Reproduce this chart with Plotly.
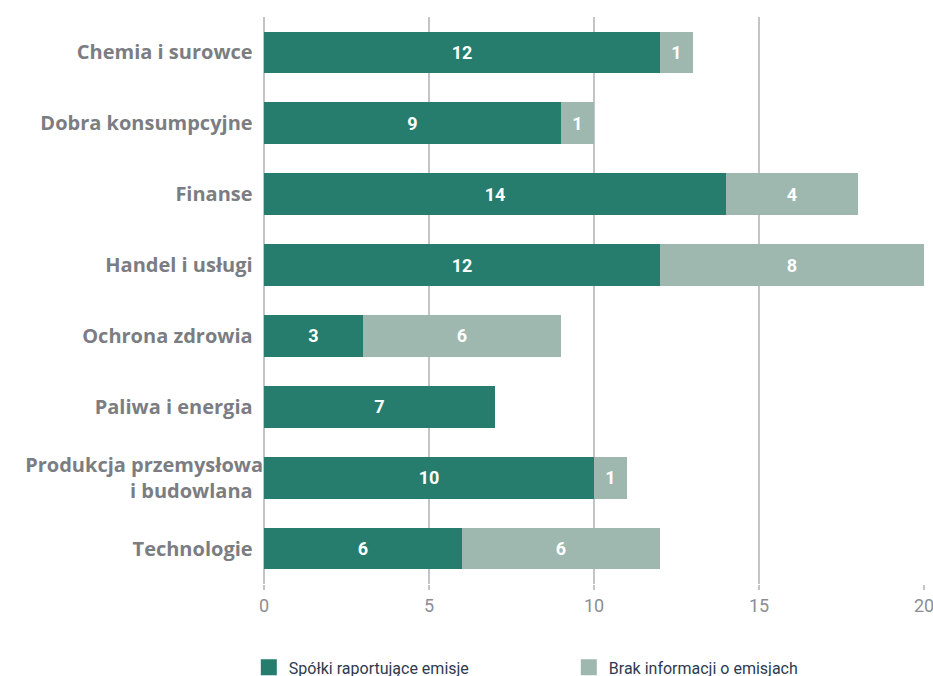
import plotly.graph_objects as go

categories = ["Chemia i surowce", "Dobra konsumpcyjne", "Finanse", "Handel i usługi",
              "Ochrona zdrowia", "Paliwa i energia", "Produkcja przemysłowa<br>i budowlana",
              "Technologie"]
reporting = [12, 9, 14, 12, 3, 7, 10, 6]
no_info = [1, 1, 4, 8, 6, 0, 1, 6]
series_names = ["Spółki raportujące emisje", "Brak informacji o emisjach"]
x_ticks = [0, 5, 10, 15, 20]

DARK = "#267d6d"
LIGHT = "#9eb8af"
GRID = "#c4c4c8"
NARROW = "Liberation Sans Narrow, Roboto, sans-serif"

def labels(vals):
    return [str(v) if v else "" for v in vals]

fig = go.Figure()
for vals, name, color in [(reporting, series_names[0], DARK), (no_info, series_names[1], LIGHT)]:
    fig.add_trace(go.Bar(
        y=categories, x=vals, orientation="h", name=name, showlegend=False,
        marker=dict(color=color, line=dict(width=0)),
        text=labels(vals), textposition="inside", insidetextanchor="middle",
        textfont=dict(color="white", size=18, family="Roboto", weight="bold"),
    ))
    # legend entry with a larger square swatch
    fig.add_trace(go.Scatter(
        x=[None], y=[None], mode="markers", name=name, showlegend=True,
        marker=dict(symbol="square", size=17, color=color),
    ))

fig.update_layout(
    barmode="stack",
    bargap=0.41,
    width=933, height=676,
    margin=dict(l=264, r=9, t=17, b=92, autoexpand=False),
    plot_bgcolor="white", paper_bgcolor="white",
    font=dict(family="Roboto", color="#7b7d82"),
    uniformtext=dict(mode="show", minsize=10),
    xaxis=dict(
        range=[0, 20], tickvals=x_ticks, showgrid=True, gridcolor=GRID, gridwidth=1.5,
        zeroline=True, zerolinecolor=GRID, zerolinewidth=1.5,
        ticks="outside", ticklen=5, tickcolor=GRID, tickwidth=1.5,
        tickfont=dict(size=18, color="#8c8e92", family=NARROW),
        ticklabeloverflow="allow",
        showline=False, fixedrange=True, automargin=False,
    ),
    yaxis=dict(
        autorange="reversed", showgrid=False, ticks="", ticklen=0,
        tickfont=dict(size=20, color="#7b7d82", family="Open Sans", weight="bold"),
        showline=False, ticksuffix="  ", automargin=False,
    ),
    legend=dict(
        orientation="h", x=-0.023, y=-0.177, xanchor="left", yanchor="bottom",
        entrywidth=275, entrywidthmode="pixels",
        font=dict(size=16, color="#2e3a4f", family=NARROW),
        traceorder="normal", tracegroupgap=0,
    ),
)

fig.write_html("out.html")
